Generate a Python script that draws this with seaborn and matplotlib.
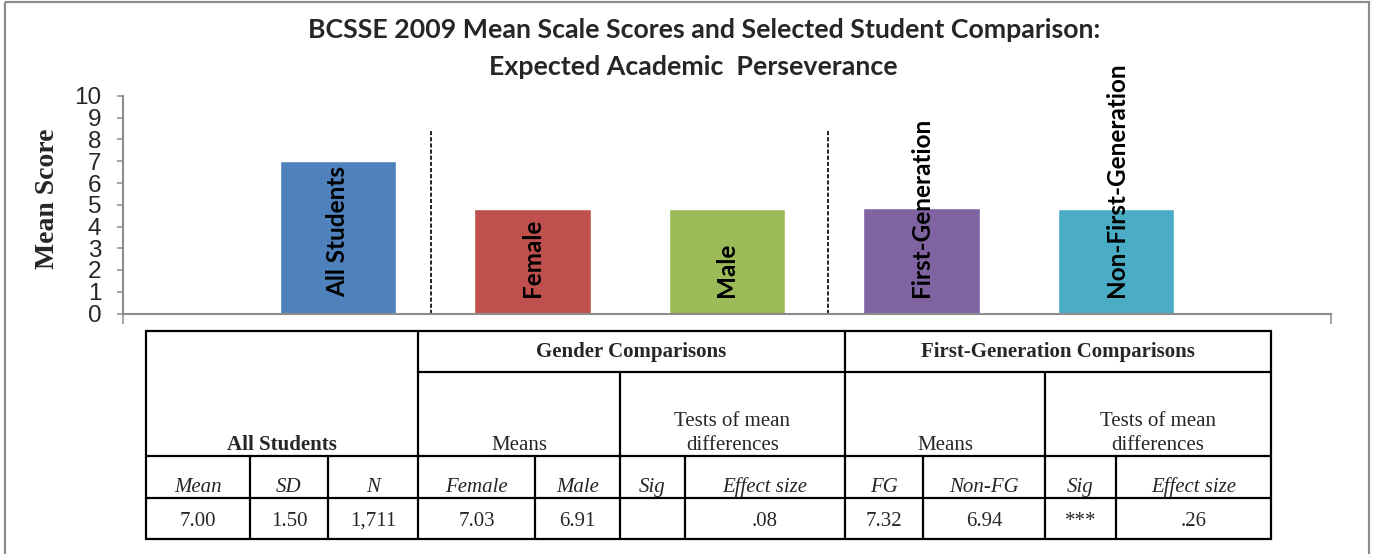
import matplotlib.pyplot as plt
import seaborn as sns
import pandas as pd
from matplotlib.patches import Rectangle

# chart data
groups = ['All Students', 'Female', 'Male', 'First-Generation', 'Non-First-Generation']
mean_scores = [7.0, 4.8, 4.8, 4.86, 4.81]
bar_colors = ['#4F81BD', '#C0504D', '#9BBB59', '#8064A2', '#4BACC6']
divider_positions = [0.48, 2.52]
divider_top = 8.5
y_ticks = list(range(0, 11))

title_lines = ['BCSSE 2009 Mean Scale Scores and Selected Student Comparison:',
               'Expected Academic  Perseverance']
y_label = 'Mean Score'

# table data
top_headers = ['Gender Comparisons', 'First-Generation Comparisons']
mid_headers = ['All Students', 'Means', 'Tests of mean\ndifferences', 'Means', 'Tests of mean\ndifferences']
col_headers = ['Mean', 'SD', 'N', 'Female', 'Male', 'Sig', 'Effect size', 'FG', 'Non-FG', 'Sig', 'Effect size']
row_values = ['7.00', '1.50', '1,711', '7.03', '6.91', '', '.08', '7.32', '6.94', '***', '.26']

sns.set_style('white')
plt.rcParams['font.family'] = ['Liberation Sans', 'DejaVu Sans']

W, H = 1373, 554
fig = plt.figure(figsize=(W / 100, H / 100), dpi=100)

# overlay in pixel coordinates for the frame and the table
ov = fig.add_axes([0, 0, 1, 1], zorder=0)
ov.set_xlim(0, W)
ov.set_ylim(H, 0)
ov.axis('off')
ov.add_patch(Rectangle((5, 2), 1364, 600, fill=False, edgecolor='#8c8c8c', lw=1.6, clip_on=False))

ax = fig.add_axes([123 / W, 1 - 313.5 / H, (1331 - 123) / W, (313.5 - 96) / H], zorder=1)
ax.patch.set_alpha(0)

df = pd.DataFrame({'group': groups, 'score': mean_scores})
sns.barplot(data=df, x='group', y='score', hue='group', palette=bar_colors,
            width=0.6, saturation=1, legend=False, ax=ax)

for i, name in enumerate(groups):
    ax.text(i, 0.76, name, rotation=90, ha='center', va='bottom',
            fontsize=17.5, fontweight='bold', family='Lato', color='black')

ax.vlines(divider_positions, 0, divider_top, colors='black', linestyles=(0, (2.5, 1.2)), lw=1.2)

ax.set_ylim(0, 10)
ax.set_yticks(y_ticks)
ax.set_xlim(-1.105, 5.105)
ax.set_xticks([-1.105, 5.105], labels=['', ''])
ax.set_xlabel('')
ax.set_ylabel('')
sns.despine(ax=ax)
for side in ['left', 'bottom']:
    ax.spines[side].set_color('#8c8c8c')
    ax.spines[side].set_linewidth(1.5)
ax.tick_params(axis='y', direction='out', length=4.5, width=1.1, color='#8c8c8c',
               labelsize=17.5, pad=11, left=True)
ax.tick_params(axis='x', direction='out', length=7, width=1.1, color='#8c8c8c', bottom=True)

fig.text(47 / W, 1 - 199 / H, y_label, rotation=90, ha='center', va='center',
         fontsize=20, fontweight='bold', family='Liberation Serif')

fig.text(704 / W, 1 - 30 / H, title_lines[0], ha='center', va='center',
         fontsize=19.3, fontweight='bold', family='Lato')
fig.text(693 / W, 1 - 67 / H, title_lines[1], ha='center', va='center',
         fontsize=19.3, fontweight='bold', family='Lato')

# table layout (pixels)
col_edges = [146, 250, 328, 418, 535, 620, 685, 845, 923, 1045, 1116, 1271]
row_edges = [331, 372, 456, 498, 539]
lw = 1.6
ov.add_patch(Rectangle((146, 331), 1271 - 146, 539 - 331, fill=False, edgecolor='black', lw=lw))
ov.hlines(372, 418, 1271, color='black', lw=lw)
ov.hlines([456, 498], 146, 1271, color='black', lw=lw)
ov.vlines([418, 845], 331, 539, color='black', lw=lw)
ov.vlines([620, 1045], 372, 539, color='black', lw=lw)
ov.vlines([250, 328, 535, 685, 923, 1116], 456, 539, color='black', lw=lw)

serif = 'Liberation Serif'
tsize = 15
top_spans = [(3, 7), (7, 11)]
for (a, b), txt in zip(top_spans, top_headers):
    ov.text((col_edges[a] + col_edges[b]) / 2, 352, txt, ha='center', va='center',
            family=serif, fontsize=tsize, fontweight='bold')

mid_spans = [(0, 3), (3, 5), (5, 7), (7, 9), (9, 11)]
for k, ((a, b), txt) in enumerate(zip(mid_spans, mid_headers)):
    xc = (col_edges[a] + col_edges[b]) / 2
    lines = txt.split('\n')
    for j, line in enumerate(lines):
        y = 450 - 23.5 * (len(lines) - 1 - j)
        ov.text(xc, y, line, ha='center', va='baseline', family=serif, fontsize=tsize,
                fontweight='bold' if k == 0 else 'normal')

for c in range(len(col_headers)):
    xc = (col_edges[c] + col_edges[c + 1]) / 2
    ov.text(xc, 492, col_headers[c], ha='center', va='baseline', family=serif,
            fontsize=tsize, style='italic')
    ov.text(xc, 525.5, row_values[c], ha='center', va='baseline', family=serif, fontsize=tsize)

fig.savefig('out.png', dpi=100)
